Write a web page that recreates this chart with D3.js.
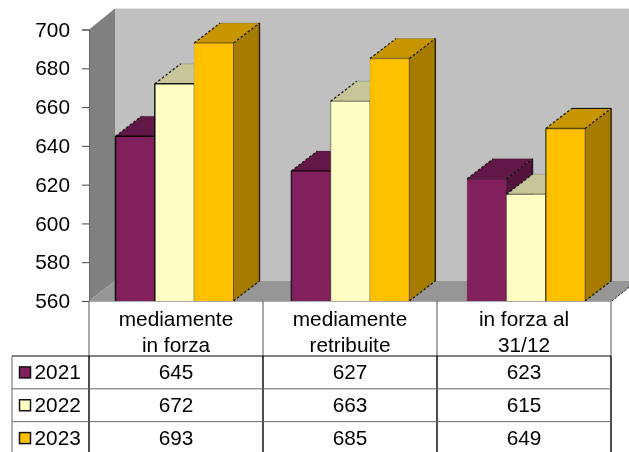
<!DOCTYPE html>
<html>
<head>
<meta charset="utf-8">
<script src="https://d3js.org/d3.v7.min.js"></script>
<style>
  html, body { margin: 0; padding: 0; background: #fff; overflow: hidden; }
  svg { display: block; filter: blur(0.45px); }
  text { font-family: "Liberation Sans", Arial, sans-serif; font-size: 20.8px; fill: #000; }
</style>
</head>
<body>
<div id="chart"></div>
<script>
// data
var categories = [["mediamente", "in forza"], ["mediamente", "retribuite"], ["in forza al", "31/12"]];
var categoryKeys = ["a", "b", "c"];
var years = ["2021", "2022", "2023"];
var values2021 = [645, 627, 623];
var values2022 = [672, 663, 615];
var values2023 = [693, 685, 649];
var seriesValues = [values2021, values2022, values2023];
var yTicks = [560, 580, 600, 620, 640, 660, 680, 700];

var frontColors = ["#82205e", "#ffffc4", "#ffc000"];
var topColors = ["#611747", "#c6c698", "#c69500"];
var sideColors = ["#54123c", "#a5a57e", "#a67c00"];
// how dark the left edge of each bar came out, per series then category
var edgeDark = [[0.95, 0.7, 0.1], [0.9, 0.3, 0.2], [0.05, 0.05, 0.6]];

var width = 629, height = 452;
var depthX = 26, depthY = 20;

var svg = d3.select("#chart").append("svg")
  .attr("width", width)
  .attr("height", height);

// the table columns and the bar groups are not quite on the same step
var x = d3.scaleBand().domain(categoryKeys).range([89, 611]);
var xBars = d3.scaleBand().domain(categoryKeys).range([88.5, 616]);
var inner = d3.scaleBand().domain(years).range([27, 145]);
var y = d3.scaleLinear().domain([560, 700]).range([301, 29.5]);

function poly(points, fill) {
  return svg.append("polygon")
    .attr("points", points.map(function (p) { return p.join(","); }).join(" "))
    .attr("fill", fill);
}

function edge(x1, y1, x2, y2, color, w, dash, op) {
  return svg.append("line")
    .attr("x1", x1).attr("y1", y1).attr("x2", x2).attr("y2", y2)
    .attr("stroke", color)
    .attr("stroke-width", w)
    .attr("stroke-dasharray", dash || null)
    .attr("stroke-opacity", op === undefined ? 1 : op);
}

// walls and floor
var x0 = x.range()[0], x1 = x.range()[1], yBase = y(560), yTop = y(700);
poly([[x0 + depthX, yTop - depthY - 1], [width, yTop - depthY - 1], [width, yBase - depthY], [x0 + depthX, yBase - depthY]], "#c0c0c0");
poly([[x0, yTop], [x0 + depthX, yTop - depthY - 1], [x0 + depthX, yBase - depthY], [x0, yBase]], "#808080");
poly([[x0, yBase], [x0 + depthX, yBase - depthY], [width, yBase - depthY], [width, yBase - depthY + 7], [x1 + 1, yBase]], "#969696");
edge(x1 + 1, yBase, width, yBase - 14, "#222", 1, "2 2");

// bars, back to front within each category
categoryKeys.forEach(function (key, c) {
  years.forEach(function (year, s) {
    var v = seriesValues[s][c];
    var bx = xBars(key) + inner(year), bw = inner.bandwidth(), by = y(v);
    var dark = edgeDark[s][c];
    poly([[bx + bw, by], [bx + bw + depthX, by - depthY], [bx + bw + depthX, yBase - depthY], [bx + bw, yBase]], sideColors[s]);
    poly([[bx, by], [bx + depthX, by - depthY], [bx + bw + depthX, by - depthY], [bx + bw, by]], topColors[s]);
    svg.append("rect")
      .attr("x", bx).attr("y", by)
      .attr("width", bw).attr("height", yBase - by)
      .attr("fill", frontColors[s]);
    // outlines
    edge(bx, by, bx, yBase, "#000", 1.5, null, dark);
    edge(bx, by, bx + bw, by, "#000", 1.5, null, Math.max(dark, 0.35));
    edge(bx, by, bx + depthX, by - depthY, "#111", 1.2, "2.5 2");
    edge(bx + bw, by, bx + bw + depthX, by - depthY, "#111", 1.2, "2.5 2");
    edge(bx + bw, by, bx + bw, yBase, "#000", 1, null, 0.5);
    edge(bx + bw + depthX, by - depthY, bx + bw + depthX, yBase - depthY, "#000", 1.4, null, 0.8);
    edge(bx + bw, yBase, bx + bw + depthX, yBase - depthY, "#111", 1.2, "2.5 2");
    edge(bx + depthX, by - depthY, bx + bw + depthX, by - depthY, "#000", 1, null, s === 2 && c === 2 ? 1 : 0.15);
  });
});

// y axis
var axis = svg.append("g")
  .attr("transform", "translate(" + x0 + ",0)")
  .call(d3.axisLeft(y).tickValues(yTicks).tickSize(7).tickPadding(12).tickFormat(d3.format("d")));
axis.select(".domain").attr("stroke", "#666");
axis.selectAll(".tick line").attr("stroke", "#444");
axis.selectAll("text").style("font-size", "20.8px").style("font-family", '"Liberation Sans", Arial, sans-serif');

// data table under the plot
var rowY = d3.scaleBand().domain(years).range([356, 454.5]);
var tableLeft = 12;

edge(x0, yBase + 0.5, x1, yBase + 0.5, "#aaa", 1);

x.domain().concat(["end"]).forEach(function (key, i) {
  var lx = i < categoryKeys.length ? x(key) : x1;
  edge(lx, yBase, lx, 356, "#555", 1);
  edge(lx, 356, lx, height, "#000", 1.4);
});
edge(tableLeft, 356, tableLeft, height, "#666", 1);

years.forEach(function (year) {
  edge(tableLeft, rowY(year), x1, rowY(year), year === years[0] ? "#000" : "#666", 1);
});

// category headers
categoryKeys.forEach(function (key, c) {
  var cx = x(key) + x.bandwidth() / 2;
  categories[c].forEach(function (txt, l) {
    svg.append("text")
      .attr("x", cx).attr("y", 326 + l * 25.5)
      .attr("text-anchor", "middle")
      .text(txt);
  });
});

// legend keys, year names and value cells
years.forEach(function (year, s) {
  var mid = rowY(year) + rowY.bandwidth() / 2;
  svg.append("rect")
    .attr("x", 19.5).attr("y", mid - 5.5)
    .attr("width", 11).attr("height", 11)
    .attr("fill", frontColors[s])
    .attr("stroke", "#111")
    .attr("stroke-width", 1.5);
  svg.append("text")
    .attr("x", 34.5).attr("y", mid + 6.8)
    .text(year);
  categoryKeys.forEach(function (key, c) {
    svg.append("text")
      .attr("x", x(key) + x.bandwidth() / 2)
      .attr("y", mid + 6.8)
      .attr("text-anchor", "middle")
      .text(seriesValues[s][c]);
  });
});
</script>
</body>
</html>
